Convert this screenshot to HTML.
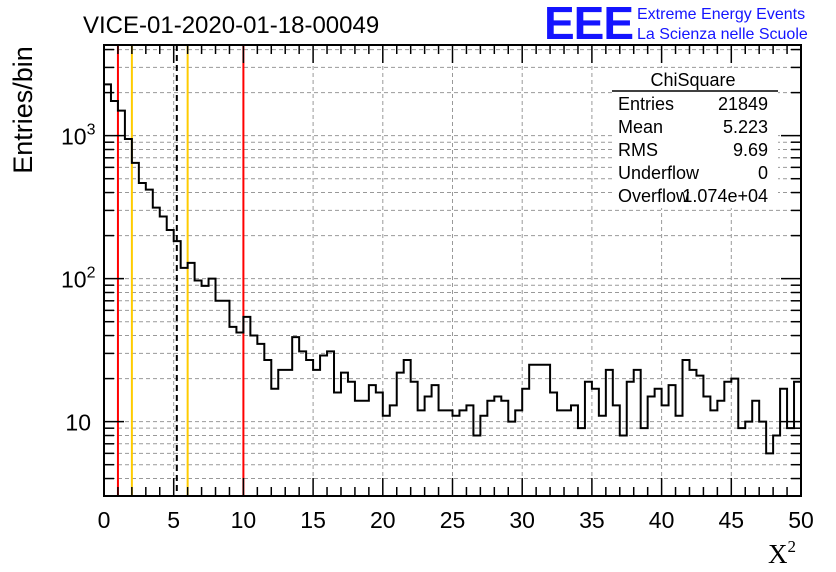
<!DOCTYPE html>
<html><head><meta charset="utf-8"><style>
body{margin:0;background:#fff;}
svg{display:block;font-family:"Liberation Sans",sans-serif;}
</style></head><body>
<svg id="chart" width="836" height="572">
<rect width="836" height="572" fill="#fff"/>
<g id="grid"></g>
<g id="lines"></g>
<path id="hist" fill="none" stroke="#000" stroke-width="2"/>
<g id="axes"></g>
<text x="83" y="33" font-size="24">VICE-01-2020-01-18-00049</text>
<text x="544" y="39" font-size="46" font-weight="bold" fill="#1414ff" letter-spacing="-1">EEE</text>
<text x="637" y="19" font-size="16" fill="#1414ff">Extreme Energy Events</text>
<text x="637" y="39" font-size="16" fill="#1414ff">La Scienza nelle Scuole</text>
<text transform="translate(32,110) rotate(-90)" font-size="27" text-anchor="middle">Entries/bin</text>
<text x="768" y="563" font-size="27" font-family="Liberation Serif,serif">X<tspan font-size="17" dy="-11">2</tspan></text>
<g font-size="18">
<rect x="612" y="68" width="166" height="140" fill="#fff"/>
<text x="693" y="86" text-anchor="middle">ChiSquare</text>
<line x1="612" y1="91" x2="778" y2="91" stroke="#000" stroke-width="1.5"/>
<text x="618" y="110">Entries</text><text x="768" y="110" text-anchor="end">21849</text>
<text x="618" y="133">Mean</text><text x="768" y="133" text-anchor="end">5.223</text>
<text x="618" y="156">RMS</text><text x="768" y="156" text-anchor="end">9.69</text>
<text x="618" y="179">Underflow</text><text x="768" y="179" text-anchor="end">0</text>
<text x="618" y="202">Overflow</text><text x="768" y="202" text-anchor="end">1.074e+04</text>
</g>
</svg>
<script>
const binEdges = [0, 50];
const counts = [2285,1746,1496,948,645,467,419,314,272,219,183,119,129,97,89,100,70,70,46,42,54,40,35,27,17,23,23,39,31,27,23,29,31,16,
22,19,14,14,18,16,11,13,22,27,19,12,15,18,12,12,11,12,13,8,11,14,15,14,10,12,17,25,25,25,16,12,12,13,9,19,17,11,23,13,8,19,23,9,15,17,13,18,11,27,23,21,15,12,14,19,20,9,10,14,10,6,8,17,9,19];
const xTicks = [0,5,10,15,20,25,30,35,40,45,50];
const yDecades = [10,100,1000];
const yDecadeLabels = ["10","10^2","10^3"];
const cutLines = [1,10];
const cutLines2 = [2,6];
const meanValue = [5.223];

const X0=104,X1=801,Y0=45,Y1=496;
const yMin=3.02,yMax=4305;
const sx=v=>X0+(v-binEdges[0])/(binEdges[1]-binEdges[0])*(X1-X0);
const sy=v=>Y1-(Math.log10(v)-Math.log10(yMin))/(Math.log10(yMax)-Math.log10(yMin))*(Y1-Y0);
const NS="http://www.w3.org/2000/svg";
function mk(tag,attrs,parent){const e=document.createElementNS(NS,tag);for(const k in attrs)e.setAttribute(k,attrs[k]);parent.appendChild(e);return e;}
const grid=document.getElementById('grid'),axes=document.getElementById('axes'),lines=document.getElementById('lines');
xTicks.forEach(t=>{if(t>0&&t<50){const g=mk('line',{x1:sx(t),x2:sx(t),y1:Y0,y2:Y1,stroke:'#999','stroke-dasharray':'4,3'},grid);

}});
const minorY=[];
for(let d=1;d<=1000;d*=10)for(let m=1;m<=9;m++){const v=d*m;if(v>yMin&&v<yMax)minorY.push(v);}
minorY.forEach(v=>{const g=mk('line',{x1:X0,x2:X1,y1:sy(v),y2:sy(v),stroke:'#999','stroke-dasharray':'4,3'},grid);


const l=Math.log10(v)%1===0?20:10;
const t1=mk('line',{x1:X0,x2:X0+l,y1:sy(v),y2:sy(v),stroke:'#000','stroke-width':1.5},axes);


const t2=mk('line',{x1:X1,x2:X1-l,y1:sy(v),y2:sy(v),stroke:'#000','stroke-width':1.5},axes);

});
const n=counts.length,bw=(binEdges[1]-binEdges[0])/n;
let d='';
counts.forEach((c,i)=>{const xa=sx(binEdges[0]+i*bw),xb=sx(binEdges[0]+(i+1)*bw),y=sy(c);d+=(i===0?`M${xa},${y}`:`L${xa},${y}`)+`L${xb},${y}`;});
document.getElementById('hist').setAttribute('d',d);
cutLines.forEach(v=>{const e=mk('line',{x1:sx(v),x2:sx(v),y1:Y0,y2:Y1,stroke:'#f00','stroke-width':2},lines);

});
cutLines2.forEach(v=>{const e=mk('line',{x1:sx(v),x2:sx(v),y1:Y0,y2:Y1,stroke:'#fc0','stroke-width':2},lines);

});
meanValue.forEach(v=>{const e=mk('line',{x1:sx(v),x2:sx(v),y1:Y0,y2:Y1,stroke:'#000','stroke-width':2,'stroke-dasharray':'6,4'},lines);

});
const f=mk('rect',{x:X0,y:Y0,width:X1-X0,height:Y1-Y0,fill:'none',stroke:'#000','stroke-width':2},axes);


for(let v=0;v<=50;v+=1){const l=v%5===0?18:9;
const t=mk('line',{x1:sx(v),x2:sx(v),y1:Y1,y2:Y1-l,stroke:'#000','stroke-width':1.5},axes);


const t2=mk('line',{x1:sx(v),x2:sx(v),y1:Y0,y2:Y0+l,stroke:'#000','stroke-width':1.5},axes);

}
xTicks.forEach(v=>{const t=mk('text',{x:sx(v),y:528,'font-size':23,'text-anchor':'middle'},axes);t.textContent=v;

});
yDecades.forEach((v,i)=>{const t=mk('text',{x:91,y:sy(v)+9,'font-size':23,'text-anchor':'end'},axes);
const lab=yDecadeLabels[i];
if(lab.includes('^')){const [b,e]=lab.split('^');t.setAttribute('x',61);t.setAttribute('text-anchor','start');t.textContent=b;const s=mk('tspan',{'font-size':16,dy:-10},t);s.textContent=e;}
else t.textContent=lab;

});
</script>
</body></html>
